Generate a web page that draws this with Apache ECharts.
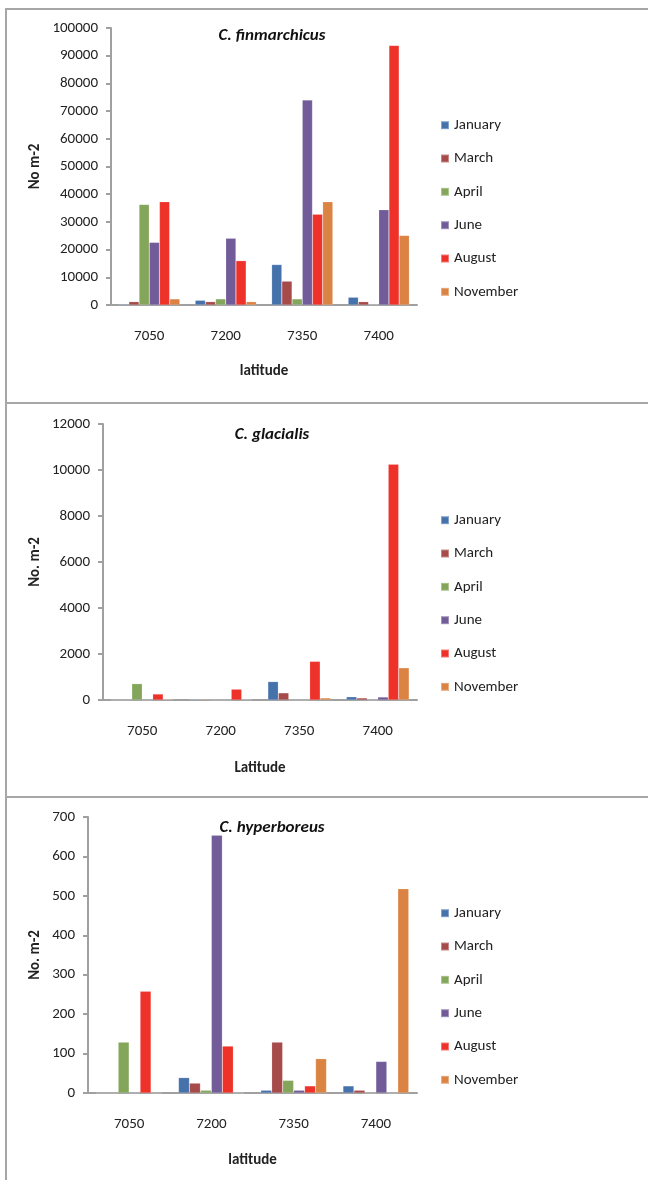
<!DOCTYPE html>
<html>
<head>
    <title>Calanus abundance by latitude</title>
    <script src="https://cdn.jsdelivr.net/npm/echarts@6/dist/echarts.min.js"></script>
    <style>
        body { margin: 0; background: #fff; }
    </style>
</head>
<body>
    <div id="main" style="width: 648px;height:1180px;"></div>
    <script type="text/javascript">
        var months = ['January', 'March', 'April', 'June', 'August', 'November'];
        var latitudes = ['7050', '7200', '7350', '7400'];
        var colors = ['#4672AC', '#A64A4A', '#83A65A', '#715B98', '#EE3129', '#DB8343'];

        // rows follow months, columns follow latitudes
        var finValues = [
            [300, 1700, 14600, 2800],
            [1200, 1200, 8600, 1200],
            [36300, 2200, 2200, 200],
            [22600, 24100, 74000, 34400],
            [37300, 16000, 32800, 93700],
            [2200, 1200, 37300, 25100]
        ];
        var glaValues = [
            [0, 30, 800, 140],
            [0, 30, 310, 90],
            [710, 0, 0, 0],
            [0, 0, 0, 130],
            [260, 470, 1680, 10250],
            [30, 20, 90, 1400]
        ];
        var hypValues = [
            [0, 39, 7, 18],
            [0, 25, 129, 7],
            [129, 7, 32, 0],
            [0, 654, 7, 80],
            [258, 119, 18, 0],
            [0, 0, 87, 518]
        ];

        var titles = ['C. finmarchicus', 'C. glacialis', 'C. hyperboreus'];
        var yNames = ['No m-2', 'No. m-2', 'No. m-2'];
        var xNames = ['latitude', 'Latitude', 'latitude'];
        var yMax = [100000, 12000, 700];
        var yStep = [10000, 2000, 100];
        var allValues = [finValues, glaValues, hypValues];

        var font = 'Carlito, Lato, sans-serif';
        var axisGray = '#A0A0A0';

        var grids = [
            { left: 111, top: 28, width: 306, height: 277 },
            { left: 103, top: 424, width: 314, height: 276 },
            { left: 88, top: 817, width: 329, height: 276 }
        ];
        var yNameGaps = [64, 56, 41];
        var xNameGaps = [55, 57, 56];
        var legendTops = [109, 504, 897];
        var titleTops = [17, 416, 809];

        var xAxes = [], yAxes = [], series = [], legends = [], titleList = [];
        for (var p = 0; p < 3; p++) {
            xAxes.push({
                type: 'category',
                gridIndex: p,
                data: latitudes,
                name: xNames[p],
                nameLocation: 'middle',
                nameGap: xNameGaps[p],
                nameMoveOverlap: false,
                nameTextStyle: { fontFamily: font, fontWeight: 'bold', fontSize: 15, color: '#222' },
                axisLine: { lineStyle: { color: axisGray, width: 2 } },
                axisTick: { length: 6, lineStyle: { color: axisGray, width: 2 } },
                axisLabel: { margin: 20, fontFamily: font, fontSize: 15, color: '#222' }
            });
            yAxes.push({
                type: 'value',
                gridIndex: p,
                min: 0,
                max: yMax[p],
                interval: yStep[p],
                name: yNames[p],
                nameLocation: 'middle',
                nameRotate: 90,
                nameGap: yNameGaps[p],
                nameMoveOverlap: false,
                nameTextStyle: { fontFamily: font, fontWeight: 'bold', fontSize: 15, color: '#222' },
                splitLine: { show: false },
                axisLine: { show: true, lineStyle: { color: axisGray, width: 2 } },
                axisTick: { show: true, length: 5, lineStyle: { color: axisGray, width: 2 } },
                axisLabel: {
                    margin: 13, fontFamily: font, fontSize: 15, color: '#222',
                    formatter: function (v) { return String(v); }
                }
            });
            for (var m = 0; m < months.length; m++) {
                series.push({
                    type: 'bar',
                    name: months[m],
                    xAxisIndex: p,
                    yAxisIndex: p,
                    data: allValues[p][m],
                    barGap: '0%',
                    barCategoryGap: '20%',
                    itemStyle: { color: colors[m], borderColor: 'rgba(255,255,255,0.35)', borderWidth: 0.5 },
                    animation: false
                });
            }
            legends.push({
                orient: 'vertical',
                left: 435,
                top: legendTops[p],
                itemWidth: 8,
                itemHeight: 8,
                itemGap: 11,
                icon: 'rect',
                data: months,
                selectedMode: false,
                textStyle: { fontFamily: font, fontSize: 15, color: '#222' }
            });
            titleList.push({
                text: titles[p],
                left: 267,
                top: titleTops[p],
                textAlign: 'center',
                textStyle: { fontFamily: font, fontSize: 17, fontWeight: 'bold', fontStyle: 'italic', color: '#111' }
            });
        }

        var myChart = echarts.init(document.getElementById('main'));
        myChart.setOption({
            animation: false,
            color: colors,
            title: titleList,
            legend: legends,
            grid: grids,
            xAxis: xAxes,
            yAxis: yAxes,
            series: series,
            graphic: [
                { type: 'rect', shape: { x: 6, y: 9, width: 700, height: 394 }, style: { fill: null, stroke: '#A6A6A6', lineWidth: 2 }, silent: true },
                { type: 'rect', shape: { x: 6, y: 403, width: 700, height: 394 }, style: { fill: null, stroke: '#A6A6A6', lineWidth: 2 }, silent: true },
                { type: 'rect', shape: { x: 6, y: 797, width: 700, height: 450 }, style: { fill: null, stroke: '#A6A6A6', lineWidth: 2 }, silent: true }
            ]
        });
    </script>
</body>
</html>
